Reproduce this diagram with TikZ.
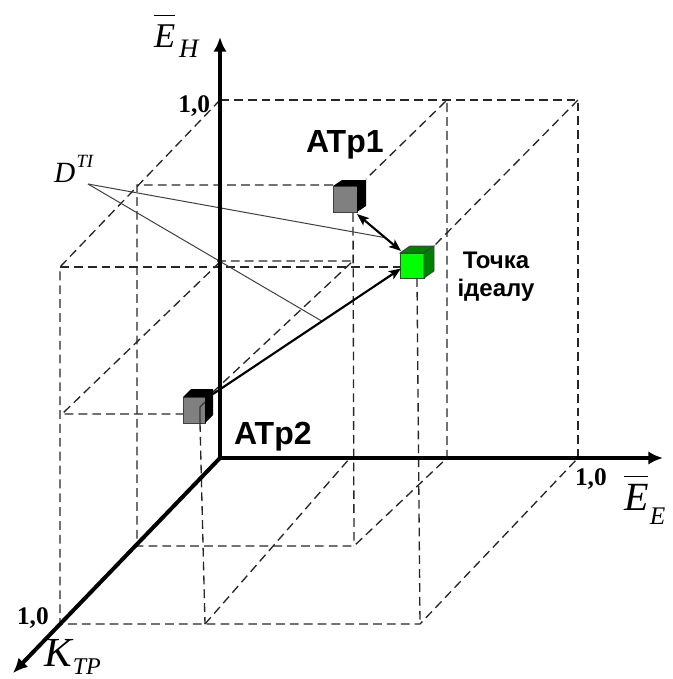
\documentclass[tikz,border=0pt]{standalone}
\usepackage{fontspec}
\setmainfont{Liberation Serif}
\newfontfamily\arialf{Liberation Sans}
\usetikzlibrary{arrows.meta,calc}
\begin{document}
\begin{tikzpicture}[x=0.75pt,y=-0.75pt,
  guide/.style={draw=black!85, line width=1pt, dash pattern=on 6.6pt off 3.8pt},
  axisline/.style={line width=3pt, -{Latex[length=11pt,width=10pt]}},
  onearrow/.style={line width=1.6pt, -{Stealth[length=9pt,width=7pt,inset=2pt]}},
  twoarrow/.style={line width=1.6pt, {Stealth[length=9pt,width=7pt,inset=2pt]}-{Stealth[length=9pt,width=7pt,inset=2pt]}},
  thinline/.style={draw=black!75, line width=0.75pt},
  cubefront/.style={draw=black!75, line width=0.6pt, inner sep=0, outer sep=0},
  lbl/.style={inner sep=0, outer sep=0}
]
\useasboundingbox (0,0) rectangle (672,679);

% ---- outer unit cube (dashed) ----
\draw[guide] (220,100) -- (578,100) -- (578,458);
\draw[guide] (220,100) -- (60,267) -- (60,624) -- (420,624) -- (578,458);
\draw[guide] (578,100) -- (434,246);
\draw[guide] (60,267) -- (400,267);
\draw[guide] (417,278) -- (420,624);

% ---- box of ATp1 ----
\draw[guide] (333,185) -- (137,185) -- (137,546) -- (354,546) -- (447,458) -- (447,100) -- (366,179);
\draw[guide] (353,213) -- (354,546);

% ---- box of ATp2 ----
\draw[guide] (213,392) -- (353,261) -- (216,261);
\draw[guide] (220,262) -- (62,414) -- (183,414);
\draw[guide] (205,624) -- (350,458);

% ---- cubes ----
\node[cubefront, fill=black!50, minimum width=18pt, minimum height=19.5pt] (atp1) at (345,199) {};
\fill[black] (atp1.north west) -- ++(9,-6) -- ($(atp1.north east)+(9,-6)$) -- ($(atp1.south east)+(9,-6)$) -- (atp1.south east) -- (atp1.north east) -- cycle;

\node[cubefront, fill=green, minimum width=18pt, minimum height=18.75pt] (ideal) at (412,265.5) {};
\filldraw[fill=green!50!black, draw=black!75, line width=0.6pt] (ideal.north west) -- ++(10,-7) -- ($(ideal.north east)+(10,-7)$) -- (ideal.north east) -- cycle;
\filldraw[fill=green!50!black, draw=black!75, line width=0.6pt] (ideal.north east) -- ++(10,-7) -- ($(ideal.south east)+(10,-7)$) -- (ideal.south east) -- cycle;

\node[cubefront, fill=black!50, minimum width=16.5pt, minimum height=19.5pt] (atp2) at (194,410) {};
\fill[black] (atp2.north west) -- ++(8,-8) -- ($(atp2.north east)+(8,-8)$) -- ($(atp2.south east)+(8,-8)$) -- (atp2.south east) -- (atp2.north east) -- cycle;
\draw[black!80, line width=0.9pt] (205,402) -- (200,407) -- (200,423);
\draw[guide] (200,423) -- (205,624);

% ---- distance links ----
\coordinate (p1s) at ([shift={(0,2)}]atp1.south east);
\coordinate (p1e) at ([shift={(1,-2)}]ideal.north west);
\coordinate (p2s) at ([shift={(8,-3)}]atp2.north east);
\coordinate (p2e) at ([shift={(1,3)}]ideal.west);
\coordinate (m1) at ($(p1s)!0.64!(p1e)$);
\coordinate (m2) at ($(p2s)!0.58!(p2e)$);
\coordinate (d0) at (88,184);
\draw[thinline] (d0) -- (m1);
\draw[thinline] (d0) -- (m2);
\draw[twoarrow] (p1s) -- (p1e);
\draw[onearrow] (p2s) -- (p2e);

% ---- axes ----
\coordinate (o) at (220,458);
\coordinate (zt) at (220,37);
\coordinate (xt) at (663,458);
\coordinate (yt) at (13,673);
\draw[axisline] (o) -- (zt);
\draw[axisline] (o) -- (xt);
\draw[axisline] (o) -- (yt);

% ---- labels ----
\node[lbl, anchor=base west] (eh) at (154,47) {\fontsize{26}{26}\selectfont\itshape $\overline{\rule{0pt}{0.86em}\mbox{E}}$\kern3pt\raisebox{-7.5pt}{\fontsize{20}{20}\selectfont H}};
\node[lbl, anchor=base west] (ee) at (624,510) {\fontsize{30}{30}\selectfont\itshape $\overline{\rule{0pt}{0.8em}\mbox{E}}$\kern1pt\raisebox{-11pt}{\fontsize{19}{19}\selectfont E}};
\node[lbl, anchor=base west] (ktp) at (44,666) {\fontsize{31}{31}\selectfont\itshape K\kern1pt\raisebox{-6pt}{\fontsize{18}{18}\selectfont TP}};
\node[lbl, anchor=base west] (dti) at (54,182) {\fontsize{22}{22}\selectfont\itshape D\kern1pt\raisebox{11pt}{\fontsize{14}{14}\selectfont TI}};
\node[lbl, anchor=base east] (one1) at (210,112) {\fontsize{19}{19}\selectfont\bfseries 1,0};
\node[lbl, anchor=base west] (one2) at (575,485) {\fontsize{19}{19}\selectfont\bfseries 1,0};
\node[lbl, anchor=base west] (one3) at (17,624) {\fontsize{19}{19}\selectfont\bfseries 1,0};
\node[lbl, anchor=base west] (t1) at (306,152) {\arialf\bfseries\fontsize{24}{24}\selectfont ATp1};
\node[lbl, anchor=base west] (t2) at (234,444) {\arialf\bfseries\fontsize{24}{24}\selectfont ATp2};
\node[lbl, anchor=center, align=center, font={\arialf\bfseries\fontsize{18}{21}\selectfont}] (tid) at (496,277) {Точка\\ідеалу};
\end{tikzpicture}
\end{document}
